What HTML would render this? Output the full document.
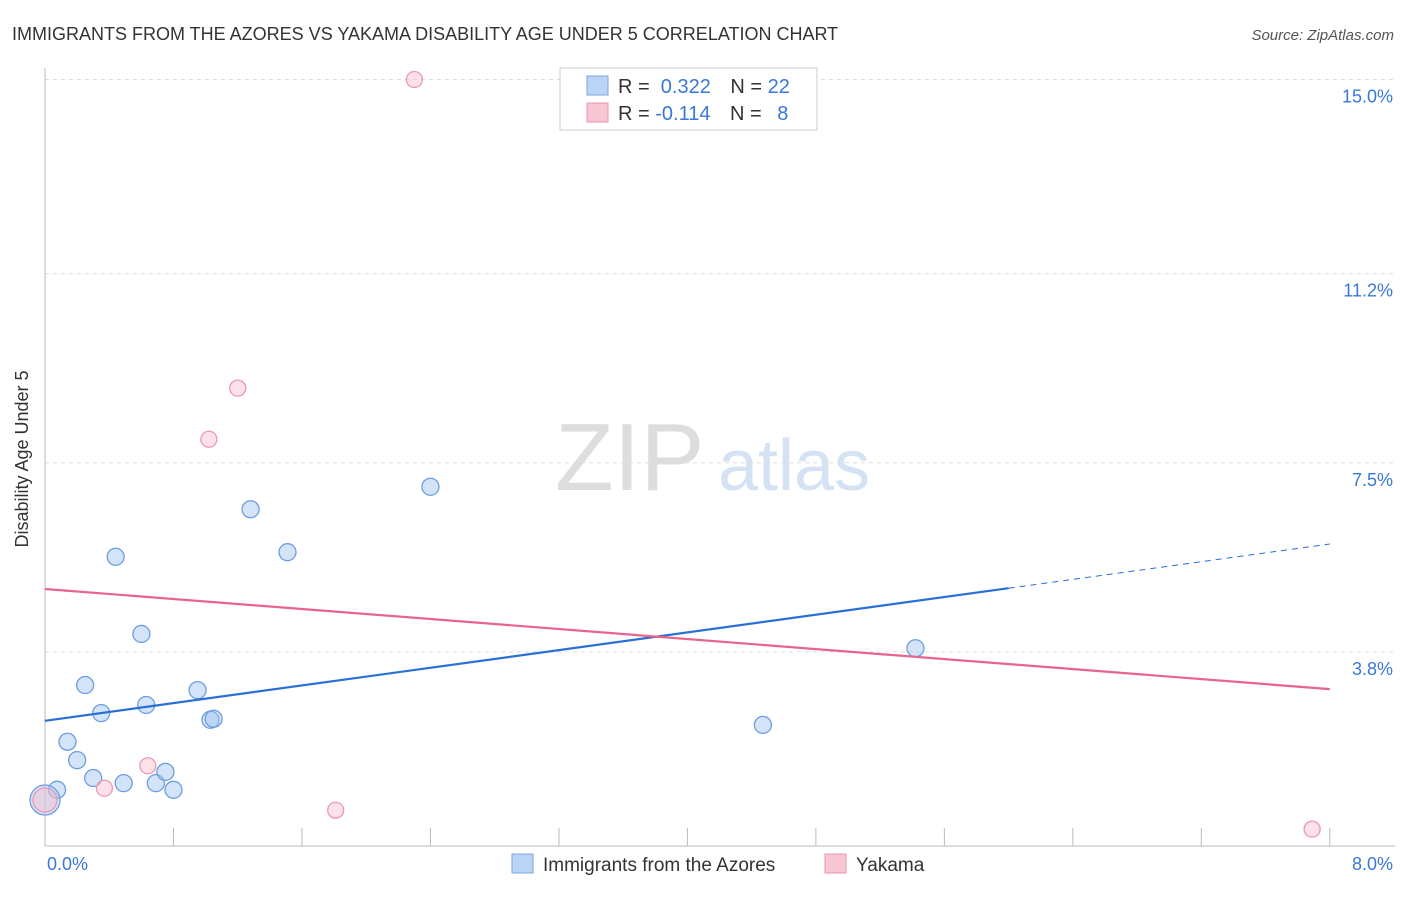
<!DOCTYPE html>
<html><head><meta charset="utf-8"><style>
body{margin:0;background:#fff;font-family:"Liberation Sans",sans-serif;}
svg text{font-family:"Liberation Sans",sans-serif;}
</style></head><body>
<svg id="c" width="1406" height="892" xmlns="http://www.w3.org/2000/svg">
<text x="12" y="40" font-size="18" fill="#333">IMMIGRANTS FROM THE AZORES VS YAKAMA DISABILITY AGE UNDER 5 CORRELATION CHART</text>
<text x="1394" y="40" font-size="15" fill="#555" font-style="italic" text-anchor="end">Source: ZipAtlas.com</text>
<text x="24" y="455" font-size="18" fill="#333" transform="rotate(-90 28 455)" text-anchor="middle">Disability Age Under 5</text>
<text x="555" y="490" font-size="96" fill="#ddd" font-family="Liberation Serif">ZIP</text>
<text x="718" y="490" font-size="72" fill="#d4e2f4">atlas</text>
<g id="grid"></g><g id="pts"></g><g id="lines"></g>
<g>
<rect x="560" y="68" width="257" height="62" fill="#fff" stroke="#ccc"/>
<rect x="587" y="76" width="21" height="19" fill="#b9d4f6" stroke="#7aa7e0"/>
<text x="618" y="93" font-size="20" fill="#333">R = <tspan fill="#3a78d8">&#160;0.322</tspan>   <tspan dx="14">N = </tspan><tspan fill="#3a78d8">22</tspan></text>
<rect x="587" y="103" width="21" height="19" fill="#f8c6d3" stroke="#e995ad"/>
<text x="618" y="120" font-size="20" fill="#333">R = <tspan fill="#3a78d8">-0.114</tspan>   <tspan dx="14">N = </tspan><tspan fill="#3a78d8" dx="10">8</tspan></text>
</g>
<g>
<rect x="512" y="854" width="21" height="19" fill="#b9d4f6" stroke="#7aa7e0"/>
<text x="543" y="871" font-size="19" fill="#333">Immigrants from the Azores</text>
<rect x="825" y="854" width="21" height="19" fill="#f8c6d3" stroke="#e995ad"/>
<text x="856" y="871" font-size="19" fill="#333">Yakama</text>
</g>
</svg>
<script>
const yTicks=[15.0,11.2,7.5,3.8];
const yTickLabels=["15.0%","11.2%","7.5%","3.8%"];
const xLabels=["0.0%","8.0%"];
const blueX=[0.075,0.0,0.14,0.20,0.25,0.30,0.35,0.44,0.49,0.60,0.63,0.69,0.75,0.80,0.95,1.03,1.05,1.28,1.51,2.40,4.47,5.42];
const blueY=[1.10,0.90,2.04,1.68,3.15,1.33,2.60,5.66,1.23,4.15,2.76,1.23,1.45,1.10,3.05,2.47,2.49,6.59,5.75,7.03,2.37,3.87];
const pinkX=[2.30,1.20,1.02,0.64,0.37,1.81,7.89,0.0];
const pinkY=[15.0,8.96,7.96,1.57,1.13,0.70,0.33,0.9];
const blueTrend=[2.45,5.91];
const pinkTrend=[5.03,3.07];
const X=v=>45+v*160.6, Y=v=>846-v*51.1;
const NS="http://www.w3.org/2000/svg";
function mk(t,a,p){const e=document.createElementNS(NS,t);for(const k in a)e.setAttribute(k,a[k]);p.appendChild(e);return e;}
const g=document.getElementById('grid');
yTicks.forEach((v,i)=>{
 const l=mk('line',{x1:45,x2:1395,y1:Y(v),y2:Y(v),stroke:'#ddd','stroke-dasharray':'4,4'},g);
 
 
 const t=mk('text',{x:1393,y:Y(v)+23,'font-size':18,fill:'#3a78d8','text-anchor':'end'},g);t.textContent=yTickLabels[i];
 
 
});
mk('line',{x1:45,x2:45,y1:68,y2:846,stroke:'#bbb'},g);
mk('line',{x1:45,x2:1395,y1:846,y2:846,stroke:'#bbb'},g);
for(let i=1;i<=10;i++){const l=mk('line',{x1:X(i*0.8),x2:X(i*0.8),y1:828,y2:846,stroke:'#bbb'},g);
 
 }
[[0,47,'start'],[8,1393,'end']].forEach((d,i)=>{const t=mk('text',{x:d[1],y:870,'font-size':18,fill:'#3a78d8','text-anchor':d[2]},g);t.textContent=xLabels[i];
 
 });
const p=document.getElementById('pts');
blueX.forEach((x,i)=>{const c=mk('circle',{cx:X(x),cy:Y(blueY[i]),r:i==1?15:8.5,fill:'rgba(160,196,240,0.45)',stroke:'#6d9de0','stroke-width':1.3},p);
 
 });
pinkX.forEach((x,i)=>{const c=mk('circle',{cx:X(x),cy:Y(pinkY[i]),r:i==7?12:8,fill:'rgba(248,190,205,0.45)',stroke:'#ea9ab0','stroke-width':1.3},p);
 
 });
const L=document.getElementById('lines');
const b6=blueTrend[0]+(blueTrend[1]-blueTrend[0])*6/8;
let l=mk('line',{x1:X(0),y1:Y(blueTrend[0]),x2:X(6),y2:Y(b6),stroke:'#2a6fd6','stroke-width':2.2},L);


l=mk('line',{x1:X(6),y1:Y(b6),x2:X(8),y2:Y(blueTrend[1]),stroke:'#2a6fd6','stroke-width':1,'stroke-dasharray':'6,5'},L);


l=mk('line',{x1:X(0),y1:Y(pinkTrend[0]),x2:X(8),y2:Y(pinkTrend[1]),stroke:'#e8648c','stroke-width':2.2},L);


</script>
</body></html>
